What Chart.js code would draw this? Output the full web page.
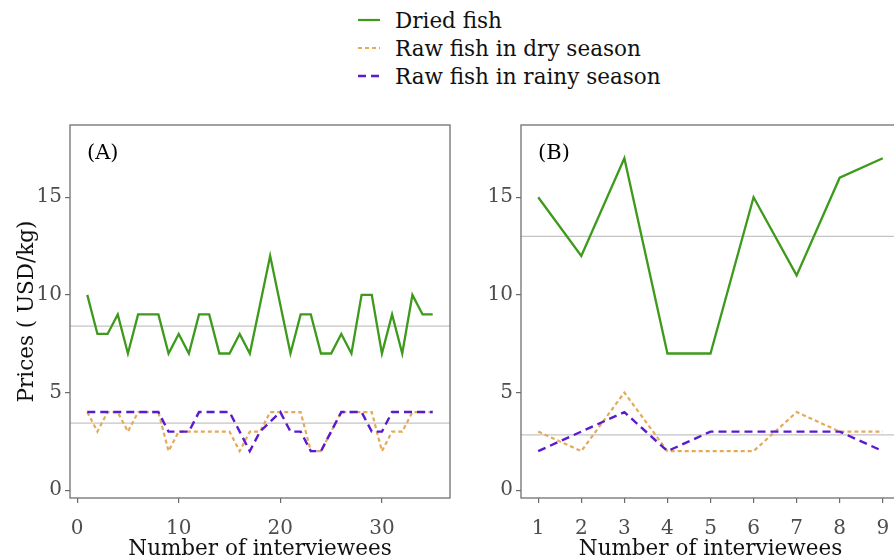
<!DOCTYPE html>
<html><head><meta charset="utf-8">
<script src="https://cdn.jsdelivr.net/npm/chart.js@4.4.1/dist/chart.umd.min.js"></script>
<style>
html,body{margin:0;padding:0;width:894px;height:560px;overflow:hidden;background:#fff;}
#wrap{position:relative;width:894px;height:560px;overflow:hidden;}
#legend{position:absolute;left:357px;top:6px;font-family:'DejaVu Serif',serif;font-size:21.5px;color:#111;}
.row{height:28px;display:flex;align-items:center;white-space:nowrap;}
.row svg{margin-right:14px;}
canvas{position:absolute;}
#cA{left:0;top:110px;}
#cB{left:470px;top:110px;}
</style></head>
<body><div id="wrap">
<div id="legend">
 <div class="row"><svg width="24" height="6"><line x1="1" y1="3" x2="23" y2="3" stroke="#3d9a1c" stroke-width="2.2"/></svg>Dried fish</div>
 <div class="row"><svg width="24" height="6"><line x1="1" y1="3" x2="23" y2="3" stroke="#e3aa58" stroke-width="2.2" stroke-dasharray="4 3"/></svg>Raw fish in dry season</div>
 <div class="row"><svg width="24" height="6"><line x1="1" y1="3" x2="23" y2="3" stroke="#5a1ad0" stroke-width="2.4" stroke-dasharray="8 5"/></svg>Raw fish in rainy season</div>
</div>
<canvas id="cA" width="460" height="450" style="width:460px;height:450px"></canvas>
<canvas id="cB" width="440" height="450" style="width:440px;height:450px"></canvas>
</div>
<script>
// ---- Panel (A) data ----
const intervieweesA = [1,2,3,4,5,6,7,8,9,10,11,12,13,14,15,16,17,18,19,20,21,22,23,24,25,26,27,28,29,30,31,32,33,34,35];
const driedA = [10,8,8,9,7,9,9,9,7,8,7,9,9,7,7,8,7,9.5,12,9.5,7,9,9,7,7,8,7,10,10,7,9,7,10,9,9];
const dryA   = [4,3,4,4,3,4,4,4,2,3,3,3,3,3,3,2,3,3,4,4,4,4,2,2,3,4,4,4,4,2,3,3,4,4,4];
const rainyA = [4,4,4,4,4,4,4,4,3,3,3,4,4,4,4,3,2,3,3.5,4,3,3,2,2,3,4,4,4,3,3,4,4,4,4,4];
const xTicksA = [0,10,20,30];
// ---- Panel (B) data ----
const intervieweesB = [1,2,3,4,5,6,7,8,9];
const driedB = [15,12,17,7,7,15,11,16,17];
const dryB   = [3,2,5,2,2,2,4,3,3];
const rainyB = [2,3,4,2,3,3,3,3,2];
const xTicksB = [1,2,3,4,5,6,7,8,9];
const yTicks = [0,5,10,15];

const FONT = "'DejaVu Serif', serif";
const GREEN = '#3d9a1c', ORANGE = '#e3aa58', PURPLE = '#5a1ad0';

const mean = a => a.reduce((s,v)=>s+v,0)/a.length;
const pts = (xs, ys) => xs.map((x,i)=>({x, y: ys[i]}));

const framePlugin = {
  id: 'frame',
  beforeDatasetsDraw(chart) {
    const {ctx, chartArea:a, scales:{y}} = chart;
    const o = chart.options.plugins.frame;
    ctx.save();
    ctx.strokeStyle = '#c4c4c4'; ctx.lineWidth = 1.2;
    o.means.forEach(m => {
      const py = y.getPixelForValue(m);
      ctx.beginPath(); ctx.moveTo(a.left, py); ctx.lineTo(a.right, py); ctx.stroke();
    });
    ctx.restore();
  },
  afterDraw(chart) {
    const {ctx, chartArea:a} = chart;
    const o = chart.options.plugins.frame;
    ctx.save();
    ctx.strokeStyle = '#707070'; ctx.lineWidth = 1.3;
    ctx.strokeRect(a.left, a.top, a.right - a.left, a.bottom - a.top);
    ctx.fillStyle = '#000'; ctx.font = '21px ' + FONT;
    ctx.textBaseline = 'middle'; ctx.textAlign = 'left';
    ctx.fillText(o.label, a.left + 17, a.top + 29);
    ctx.restore();
  }
};

function makeChart(id, xs, dried, dry, rainy, xMin, xMax, xTicks, label, yWidth, yTitle, rightPad) {
  const raw = dry.concat(rainy);
  return new Chart(document.getElementById(id), {
    type: 'line',
    data: {
      datasets: [
        {label: 'Raw fish in rainy season', data: pts(xs, rainy), borderColor: PURPLE, borderWidth: 2.4, borderDash: [8,5], pointRadius: 0, tension: 0, fill: false},
        {label: 'Raw fish in dry season', data: pts(xs, dry), borderColor: ORANGE, borderWidth: 2.2, borderDash: [4,3], pointRadius: 0, tension: 0, fill: false},
        {label: 'Dried fish', data: pts(xs, dried), borderColor: GREEN, borderWidth: 2.3, pointRadius: 0, tension: 0, fill: false}
      ]
    },
    options: {
      responsive: false, animation: false, events: [],
      layout: {padding: {top: 12, right: rightPad, left: 0, bottom: 0}},
      plugins: {legend: {display: false}, tooltip: {enabled: false},
        frame: {means: [mean(dried), mean(raw)], label: label}},
      scales: {
        x: {type: 'linear', min: xMin, max: xMax,
          afterBuildTicks: s => { s.ticks = xTicks.map(v => ({value: v})); },
          afterFit: s => { s.height = 62; },
          grid: {drawOnChartArea: false, drawTicks: true, tickLength: 5, color: '#6a6a6a', lineWidth: 1.2},
          border: {display: false},
          ticks: {font: {family: FONT, size: 20}, color: '#4d4d4d', padding: 14, maxRotation: 0, autoSkip: false},
          title: {display: true, text: 'Number of interviewees', font: {family: FONT, size: 21.5}, color: '#111', padding: {top: 0, bottom: -2}}
        },
        y: {type: 'linear', min: -0.4, max: 18.7,
          afterBuildTicks: s => { s.ticks = yTicks.map(v => ({value: v})); },
          afterFit: s => { s.width = yWidth; },
          grid: {drawOnChartArea: false, drawTicks: true, tickLength: 5, color: '#6a6a6a', lineWidth: 1.2},
          border: {display: false},
          ticks: {font: {family: FONT, size: 20}, color: '#4d4d4d', padding: 3},
          title: {display: yTitle, text: 'Prices ( USD/kg)', font: {family: FONT, size: 21.5}, color: '#111', padding: {top: 15, bottom: 0}}
        }
      }
    },
    plugins: [framePlugin]
  });
}

makeChart('cA', intervieweesA, driedA, dryA, rainyA, -0.7, 36.7, xTicksA, '(A)', 70, true, 10);
makeChart('cB', intervieweesB, driedB, dryB, rainyB, 0.6, 9.4, xTicksB, '(B)', 51, false, 10);
</script>
</body></html>
